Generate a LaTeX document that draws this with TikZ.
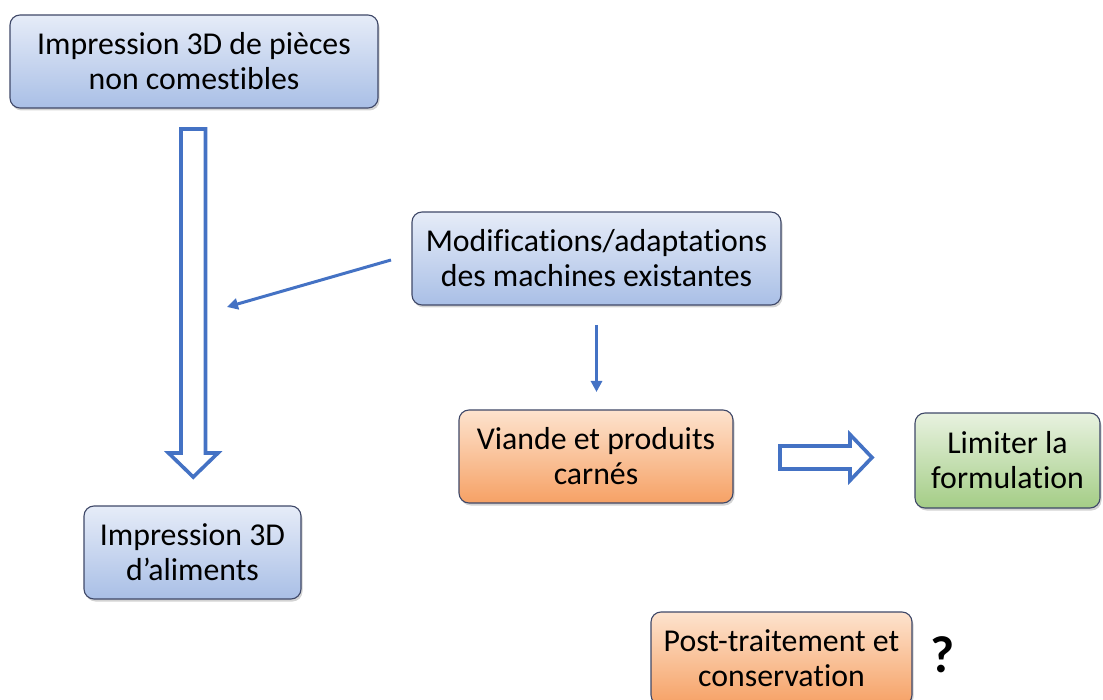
\documentclass[tikz,border=0pt]{standalone}
\usepackage{fontspec}
\setmainfont[Ligatures=NoCommon]{Carlito}
\usetikzlibrary{shadows,arrows.meta}
\definecolor{arrowblue}{HTML}{4472C4}
\definecolor{boxborder}{HTML}{3F4868}
\definecolor{bluetop}{HTML}{E6ECF8}
\definecolor{bluebot}{HTML}{A9BFE6}
\definecolor{orangetop}{HTML}{FDE3CE}
\definecolor{orangebot}{HTML}{F6A165}
\definecolor{greentop}{HTML}{E8F2E0}
\definecolor{greenbot}{HTML}{A4CD86}
\tikzset{
  box/.style={draw=boxborder, line width=1.1pt, rounded corners=10pt,
    inner sep=0pt, align=center, minimum height=93pt,
    font=\fontsize{31.8}{35}\selectfont,
    drop shadow={shadow xshift=1.5pt, shadow yshift=-2.5pt, opacity=0.35}},
  bluebox/.style={box, top color=bluetop, bottom color=bluebot},
  orangebox/.style={box, top color=orangetop, bottom color=orangebot},
  greenbox/.style={box, top color=greentop, bottom color=greenbot},
  thinarrow/.style={draw=arrowblue, line width=3pt,
    -{Triangle[length=11pt,width=11pt]}},
  hollowarrow/.style={draw=arrowblue, line width=3.6pt, fill=white, line join=miter},
}
\begin{document}
\begin{tikzpicture}[x=1pt,y=-1pt]
\useasboundingbox (0,0) rectangle (1103,700);
\clip (0,0) rectangle (1103,700);

\node[bluebox, minimum width=368pt] (top) at (194,61.5)
  {Impression 3D de pièces\\non comestibles};
\node[bluebox, minimum width=369pt] (mod) at (596.5,258.5)
  {Modifications/adaptations\\des machines existantes};
\node[orangebox, minimum width=274pt] (viande) at (596,456.5)
  {Viande et produits\\carnés};
\node[greenbox, minimum width=185pt, minimum height=95pt] (limiter) at (1007.5,460.5)
  {Limiter la\\formulation};
\node[bluebox, minimum width=217pt] (aliments) at (192.5,552.5)
  {Impression 3D\\d’aliments};
\node[orangebox, minimum width=261pt] (post) at (781.5,658.5)
  {Post-traitement et\\conservation};
\node[font=\fontsize{52}{56}\selectfont\bfseries] (q) at (943,655) {?};

% hollow vertical arrow
\draw[hollowarrow] (181,129) -- (205.5,129) -- (205.5,453) -- (218,453)
  -- (193.25,477) -- (168.5,453) -- (181,453) -- cycle;

% hollow horizontal arrow
\draw[hollowarrow] (780,446) -- (850,446) -- (850,434.5) -- (872,457.5)
  -- (850,480.5) -- (850,469) -- (780,469) -- cycle;

% thin arrows
\coordinate (a1) at (391,260);
\coordinate (a2) at (227,307);
\draw[thinarrow] (a1) -- (a2);
\coordinate (b1) at (596.5,325);
\coordinate (b2) at (596.5,392);
\draw[thinarrow] (b1) -- (b2);
\end{tikzpicture}
\end{document}
